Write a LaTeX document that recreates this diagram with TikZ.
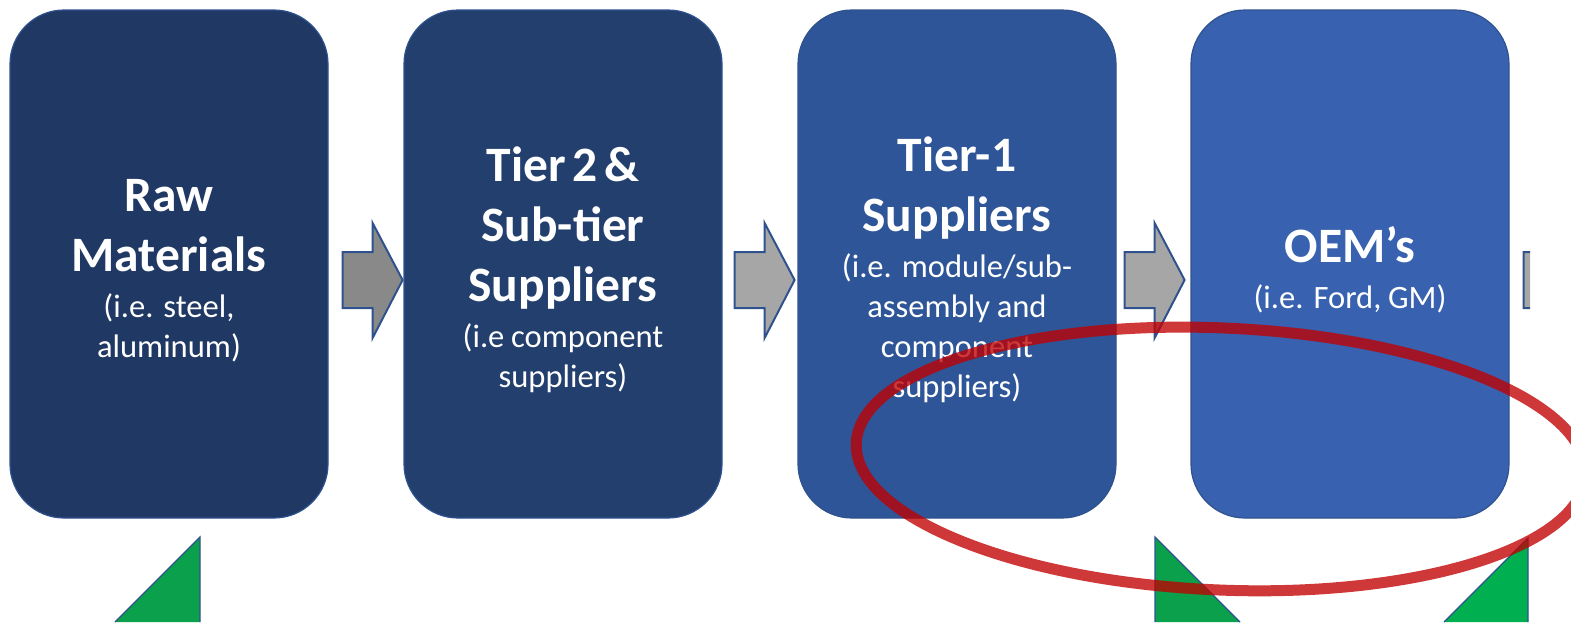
\documentclass[tikz,border=0pt]{standalone}
\usepackage{fontspec}
\setmainfont{Carlito}
\usetikzlibrary{calc}

\definecolor{navyA}{HTML}{203864}
\definecolor{navyB}{HTML}{223F6E}
\definecolor{blueC}{HTML}{2E5597}
\definecolor{blueD}{HTML}{3861B0}
\definecolor{boxline}{HTML}{2F528F}
\definecolor{arrowdark}{HTML}{898989}
\definecolor{arrowlight}{HTML}{A6A6A6}
\definecolor{leafA}{HTML}{0BA04B}
\definecolor{leafB}{HTML}{00B050}
\definecolor{ringred}{HTML}{C00000}

\newcommand\headfont{\bfseries\fontsize{24.75}{30}\selectfont}
\newcommand\notefont{\fontsize{16.3}{20}\selectfont}
% block arrow from a start point, body then head
\newcommand\blockarrow[2]{\draw[arrowline, fill=#2] (#1) ++(0,-28) -- ++(30,0) -- ++(0,-29) -- ++(30,57) -- ++(-30,58) -- ++(0,-30) -- ++(-30,0) -- cycle;}

\begin{document}
\begin{tikzpicture}[x=0.5pt, y=-0.5pt,
  tierbox/.style={draw=boxline, line width=0.6pt, rounded corners=27pt, minimum width=159pt, minimum height=254pt},
  tiertext/.style={text=white, text width=155pt, align=center},
  arrowline/.style={draw=boxline, line width=1pt},
  wedge/.style={draw=boxline, line width=0.6pt},
  ring/.style={draw=ringred, draw opacity=0.78, line width=5.5pt}]
\clip (0,0) rectangle (1571,622);

% the four tiers
\node[tierbox, fill=navyA] (raw) at (169,264) {};
\node[tierbox, fill=navyB] (tiertwo) at (563,264) {};
\node[tierbox, fill=blueC] (tierone) at (957,264) {};
\node[tierbox, fill=blueD] (oem) at (1350,264) {};

\node[tiertext] (rawtext) at (169,271) {{\headfont Raw\\Materials\par}\vskip3pt{\notefont (i.e. steel,\\aluminum)\par}};
\node[tiertext] (tiertwotext) at (563,270) {{\headfont Tier 2 \&\\Sub-tier\\Suppliers\par}\vskip3pt{\notefont (i.e component\\suppliers)\par}};
\node[tiertext] (tieronetext) at (957,270) {{\headfont Tier-1\\Suppliers\par}\vskip3pt{\notefont (i.e. module/sub-\\assembly and\\component\\suppliers)\par}};
\node[tiertext] (oemtext) at (1350,270) {{\headfont OEM’s\par}\vskip3pt{\notefont (i.e. Ford, GM)\par}};

% arrows between the tiers
\coordinate (a1) at ($(raw.east)+(14,16)$);
\coordinate (a2) at ($(tiertwo.east)+(12,16)$);
\coordinate (a3) at ($(tierone.east)+(8,16)$);
\coordinate (a4) at ($(oem.east)+(14,16)$);
\blockarrow{a1}{arrowdark}
\blockarrow{a2}{arrowlight}
\blockarrow{a3}{arrowlight}
\begin{scope}
\clip (1500,0) rectangle (1530,622);
\blockarrow{a4}{arrowlight}
\end{scope}

% green wedges along the bottom
\coordinate (w1) at (200,537);
\coordinate (w2) at (1155,537);
\coordinate (w3) at (1528,538);
\fill[leafA] (w1) -- (200,622) -- (115,622) -- cycle;
\draw[wedge] (200,622) -- (w1) -- (115,622);
\fill[leafA] (w2) -- (1155,622) -- (1240,622) -- cycle;
\draw[wedge] (1155,622) -- (w2) -- (1240,622);
\fill[leafB] (w3) -- (1528,622) -- (1444,622) -- cycle;
\draw[wedge] (1528,622) -- (w3) -- (1444,622);

% red ring
\coordinate (ringc) at (1221,459);
\draw[ring, rotate around={-2.5:(ringc)}] (ringc) ellipse [x radius=182.5pt, y radius=65.5pt];
\end{tikzpicture}
\end{document}
